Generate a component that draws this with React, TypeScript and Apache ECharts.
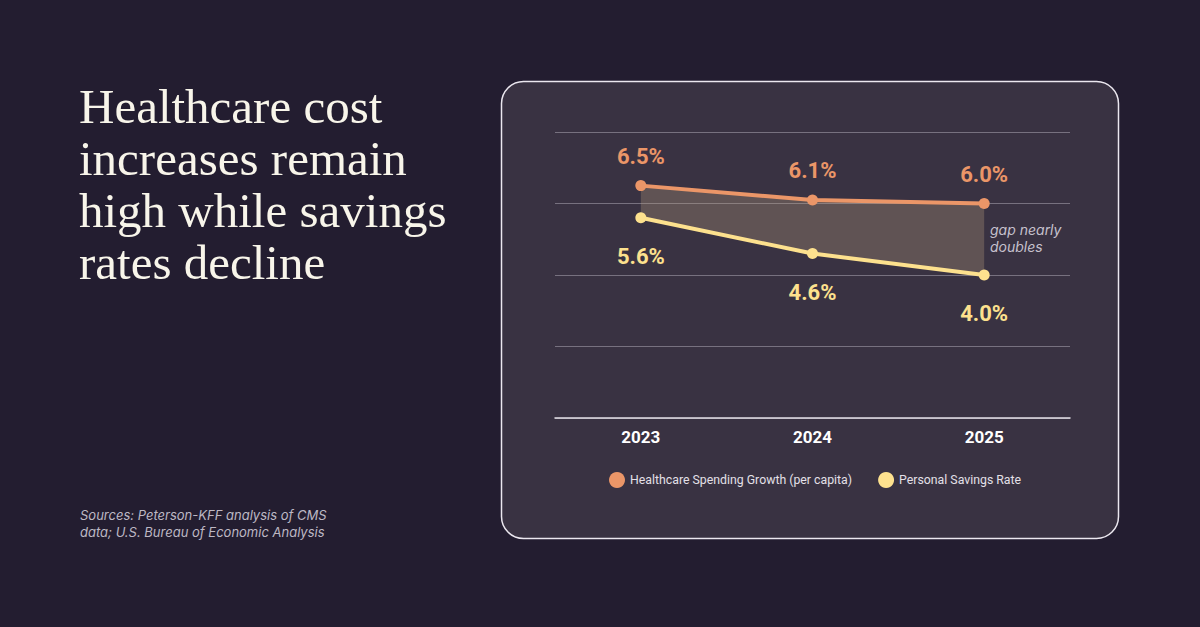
import React, { useEffect, useRef } from "react";
import * as echarts from "echarts";

const years = ["2023", "2024", "2025"];
const healthcareGrowth = [6.5, 6.1, 6.0];
const savingsRate = [5.6, 4.6, 4.0];
const yTicks = { min: 0, max: 8, interval: 2 };

const titleLines = ["Healthcare cost", "increases remain", "high while savings", "rates decline"];
const sourceLines = ["Sources: Peterson-KFF analysis of CMS", "data; U.S. Bureau of Economic Analysis"];
const annotation = ["gap nearly", "doubles"];

export default function App() {
  const ref = useRef<HTMLDivElement>(null);
  useEffect(() => {
    document.body.style.margin = "0";
    const chart = echarts.init(ref.current!, null, { renderer: "svg" });
    const gap = healthcareGrowth.map((v, i) => +(v - savingsRate[i]).toFixed(2));
    chart.setOption({
      animation: false,
      backgroundColor: "#231d30",
      grid: { left: 555, right: 130, top: 132, bottom: 209 },
      xAxis: {
        type: "category",
        data: years,
        boundaryGap: true,
        axisLine: { lineStyle: { color: "#e4e0e8", width: 1.5 } },
        axisTick: { show: false },
        axisLabel: { color: "#ffffff", fontFamily: "Roboto", fontWeight: "bold", fontSize: 17, margin: 10 },
      },
      yAxis: {
        type: "value",
        min: yTicks.min,
        max: yTicks.max,
        interval: yTicks.interval,
        axisLabel: { show: false },
        axisLine: { show: false },
        axisTick: { show: false },
        splitLine: { lineStyle: { color: "#77717f", width: 1 } },
      },
      legend: {
        data: ["Healthcare Spending Growth (per capita)", "Personal Savings Rate"],
        top: 467,
        left: 604,
        icon: "circle",
        itemWidth: 16,
        itemHeight: 16,
        itemGap: 26,
        textStyle: { color: "#e4e0e8", fontFamily: "Roboto", fontSize: 12.3 },
      },
      graphic: [
        {
          type: "rect",
          shape: { x: 501.5, y: 81.5, width: 617, height: 457, r: 22 },
          style: { fill: "#393242", stroke: "#ece8f0", lineWidth: 1.5 },
          z: -10,
          silent: true,
        },
        ...titleLines.map((t, i) => ({
          type: "text",
          left: 79,
          top: 82 + i * 52,
          style: { text: t, fill: "#f8f5ea", font: "49px 'Liberation Serif'" },
        })),
        ...sourceLines.map((t, i) => ({
          type: "text",
          left: 80,
          top: 508 + i * 17,
          style: { text: t, fill: "#bdb8c4", font: "italic 13px Inter" },
        })),
        ...annotation.map((t, i) => ({
          type: "text",
          left: 990,
          top: 222 + i * 17,
          style: { text: t, fill: "#c6c1cd", font: "italic 14px Inter" },
        })),
      ],
      series: [
        {
          name: "band-base",
          type: "line",
          data: savingsRate,
          stack: "band",
          symbol: "none",
          lineStyle: { opacity: 0 },
          silent: true,
          z: 1,
        },
        {
          name: "band-gap",
          type: "line",
          data: gap,
          stack: "band",
          symbol: "none",
          lineStyle: { opacity: 0 },
          areaStyle: { color: "rgba(180,157,123,0.32)", opacity: 1 },
          silent: true,
          z: 1,
        },
        {
          name: "Healthcare Spending Growth (per capita)",
          type: "line",
          data: healthcareGrowth,
          color: "#eb9668",
          symbol: "circle",
          symbolSize: 11,
          lineStyle: { width: 4, color: "#eb9668" },
          itemStyle: { color: "#eb9668" },
          label: {
            show: true,
            position: "top",
            distance: 13,
            formatter: (p: any) => p.value.toFixed(1) + "%",
            color: "#eb9668",
            fontFamily: "Roboto",
            fontWeight: "bold",
            fontSize: 22,
          },
          z: 3,
        },
        {
          name: "Personal Savings Rate",
          type: "line",
          data: savingsRate,
          color: "#fde18e",
          symbol: "circle",
          symbolSize: 11,
          lineStyle: { width: 4, color: "#fde18e" },
          itemStyle: { color: "#fde18e" },
          label: {
            show: true,
            position: "bottom",
            distance: 22,
            formatter: (p: any) => p.value.toFixed(1) + "%",
            color: "#fde18e",
            fontFamily: "Roboto",
            fontWeight: "bold",
            fontSize: 22,
          },
          z: 3,
        },
      ],
    });
    return () => chart.dispose();
  }, []);
  return <div ref={ref} style={{ width: 1200, height: 627 }} />;
}
